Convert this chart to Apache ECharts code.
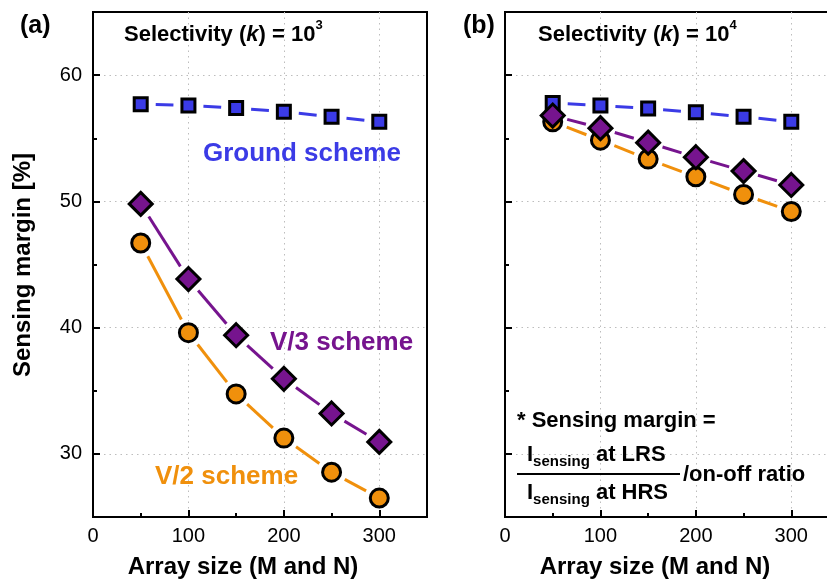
<!DOCTYPE html>
<html>
<head>
<meta charset="utf-8">
<script src="https://cdn.jsdelivr.net/npm/echarts@6/dist/echarts.min.js"></script>
<style>
html, body { margin: 0; padding: 0; background: #fff; }
#margin-chart { width: 827px; height: 581px; }
</style>
</head>
<body>
<div id="margin-chart"></div>
<script>
var sizes = [50, 100, 150, 200, 250, 300];

// (a) k = 10^3
var groundA = [57.7, 57.6, 57.4, 57.1, 56.7, 56.3];
var v3A = [49.8, 43.85, 39.4, 35.95, 33.2, 30.95];
var v2A = [46.7, 39.6, 34.75, 31.25, 28.55, 26.5];

// (b) k = 10^4
var groundB = [57.8, 57.6, 57.35, 57.05, 56.7, 56.3];
var v3B = [56.8, 55.8, 54.65, 53.5, 52.4, 51.3];
var v2B = [56.3, 54.85, 53.35, 51.95, 50.55, 49.2];

var xTicks = [0, 100, 200, 300];
var xMinorTicks = [50, 150, 250];
var yTicks = [30, 40, 50, 60];
var yMinorTicks = [35, 45, 55];

var FONT = "'Liberation Sans', Arial, Helvetica, sans-serif";
var BLUE = '#3b3be6';
var PURPLE = '#76148e';
var ORANGE = '#f0900c';
var GAP = 15;

var marginChart = echarts.init(document.getElementById('margin-chart'));

function makePoints(ys) {
    var pts = [];
    for (var i = 0; i < sizes.length; i++) {
        pts.push([sizes[i], ys[i]]);
    }
    return pts;
}

function makeSegments(ys) {
    var segs = [];
    for (var i = 0; i < sizes.length - 1; i++) {
        segs.push([sizes[i], ys[i], sizes[i + 1], ys[i + 1]]);
    }
    return segs;
}

// line pieces that stop short of the symbols
function gapLine(ys, color, idx) {
    return {
        type: 'custom',
        xAxisIndex: idx * 2,
        yAxisIndex: idx * 2,
        data: makeSegments(ys),
        silent: true,
        z: 2,
        renderItem: function(params, api) {
            var p1 = api.coord([api.value(0), api.value(1)]);
            var p2 = api.coord([api.value(2), api.value(3)]);
            var dx = p2[0] - p1[0], dy = p2[1] - p1[1];
            var len = Math.sqrt(dx * dx + dy * dy);
            var ux = dx / len, uy = dy / len;
            return {
                type: 'line',
                shape: {
                    x1: p1[0] + ux * GAP, y1: p1[1] + uy * GAP,
                    x2: p2[0] - ux * GAP, y2: p2[1] - uy * GAP
                },
                style: { stroke: color, lineWidth: 3 }
            };
        }
    };
}

function symbols(ys, color, symbol, size, idx, z) {
    return {
        type: 'scatter',
        xAxisIndex: idx * 2,
        yAxisIndex: idx * 2,
        symbol: symbol,
        symbolSize: size,
        data: makePoints(ys),
        z: z,
        itemStyle: { color: color, borderColor: '#000', borderWidth: 3, opacity: 1 }
    };
}

function mainX(grid) {
    return {
        type: 'value', gridIndex: grid, min: 0, max: 350,
        axisLine: { onZero: false, lineStyle: { color: '#000', width: 2 } },
        axisTick: { inside: true, length: 7, lineStyle: { color: '#000', width: 2 }, customValues: [100, 200, 300] },
        axisLabel: { color: '#000', fontSize: 20, fontFamily: FONT, margin: 9, customValues: xTicks },
        splitLine: { show: true, lineStyle: { color: '#bdbdbd', width: 1, type: [1.5, 4] } }
    };
}

function minorX(grid) {
    return {
        type: 'value', gridIndex: grid, min: 0, max: 350, position: 'bottom',
        axisLine: { show: false },
        axisTick: { inside: true, length: 4, lineStyle: { color: '#000', width: 2 }, customValues: xMinorTicks },
        axisLabel: { show: false },
        splitLine: { show: false }
    };
}

function mainY(grid, showLabel) {
    return {
        type: 'value', gridIndex: grid, min: 25, max: 65,
        axisLine: { show: true, onZero: false, lineStyle: { color: '#000', width: 2 } },
        axisTick: { show: true, inside: true, length: 7, lineStyle: { color: '#000', width: 2 }, customValues: yTicks },
        axisLabel: { show: showLabel, color: '#000', fontSize: 20, fontFamily: FONT, margin: 11, customValues: yTicks },
        splitLine: { show: true, lineStyle: { color: '#bdbdbd', width: 1, type: [1.5, 4] } }
    };
}

function minorY(grid) {
    return {
        type: 'value', gridIndex: grid, min: 25, max: 65, position: 'left',
        axisLine: { show: false },
        axisTick: { show: true, inside: true, length: 4, lineStyle: { color: '#000', width: 2 }, customValues: yMinorTicks },
        axisLabel: { show: false },
        splitLine: { show: false }
    };
}

function txt(x, y, text, size, color, extra) {
    var style = {
        text: text, fontSize: size, fontWeight: 'bold', fontFamily: FONT,
        fill: color || '#000', align: 'left', verticalAlign: 'middle'
    };
    for (var k in extra) { style[k] = extra[k]; }
    return { type: 'text', x: x, y: y, z: 50, style: style };
}

var selRich = {
    t: { fontSize: 22, fontWeight: 'bold', fontFamily: FONT, lineHeight: 32 },
    k: { fontSize: 22, fontWeight: 'bold', fontStyle: 'italic', fontFamily: FONT, lineHeight: 32 },
    sup: { fontSize: 13, fontWeight: 'bold', fontFamily: FONT, verticalAlign: 'top' }
};

var fracRich = {
    t: { fontSize: 22, fontWeight: 'bold', fontFamily: FONT, lineHeight: 28 },
    sub: { fontSize: 15, fontWeight: 'bold', fontFamily: FONT, verticalAlign: 'bottom' }
};

marginChart.setOption({
    animation: false,
    backgroundColor: '#fff',
    grid: [
        { left: 93, top: 12, width: 334, height: 505, outerBoundsMode: 'none', show: true, borderColor: '#000', borderWidth: 2 },
        { left: 505, top: 12, width: 334, height: 505, outerBoundsMode: 'none', show: true, borderColor: '#000', borderWidth: 2 }
    ],
    xAxis: [mainX(0), minorX(0), mainX(1), minorX(1)],
    yAxis: [mainY(0, true), minorY(0), mainY(1, false), minorY(1)],
    series: [
        gapLine(groundA, BLUE, 0),
        gapLine(v2A, ORANGE, 0),
        gapLine(v3A, PURPLE, 0),
        symbols(groundA, BLUE, 'rect', 13, 0, 5),
        symbols(v2A, ORANGE, 'circle', 18, 0, 6),
        symbols(v3A, PURPLE, 'diamond', 23, 0, 7),
        gapLine(groundB, BLUE, 1),
        gapLine(v2B, ORANGE, 1),
        gapLine(v3B, PURPLE, 1),
        symbols(groundB, BLUE, 'rect', 13, 1, 5),
        symbols(v2B, ORANGE, 'circle', 18, 1, 6),
        symbols(v3B, PURPLE, 'diamond', 23, 1, 7)
    ],
    graphic: [
        txt(20, 26, '(a)', 25),
        txt(463, 26, '(b)', 25),
        txt(124, 35, '{t|Selectivity (}{k|k}{t|) = 10}{sup|3}', 22, '#000', { rich: selRich }),
        txt(538, 35, '{t|Selectivity (}{k|k}{t|) = 10}{sup|4}', 22, '#000', { rich: selRich }),
        txt(203, 154, 'Ground scheme', 26, BLUE),
        txt(270, 343, 'V/3 scheme', 26, PURPLE),
        txt(155, 477, 'V/2 scheme', 26, ORANGE),
        txt(243, 567, 'Array size (M and N)', 24, '#000', { align: 'center' }),
        txt(655, 567, 'Array size (M and N)', 24, '#000', { align: 'center' }),
        {
            type: 'text', x: 23, y: 265, rotation: Math.PI / 2, z: 50,
            style: { text: 'Sensing margin [%]', fontSize: 24, fontWeight: 'bold', fontFamily: FONT, fill: '#000', align: 'center', verticalAlign: 'middle' }
        },
        txt(517, 421, '* Sensing margin =', 22),
        txt(527, 455, '{t|I}{sub|sensing}{t| at LRS}', 22, '#000', { rich: fracRich }),
        txt(527, 493, '{t|I}{sub|sensing}{t| at HRS}', 22, '#000', { rich: fracRich }),
        { type: 'line', z: 50, shape: { x1: 517, y1: 474, x2: 680, y2: 474 }, style: { stroke: '#000', lineWidth: 2 } },
        txt(683, 475, '/on-off ratio', 22)
    ]
});
</script>
</body>
</html>
